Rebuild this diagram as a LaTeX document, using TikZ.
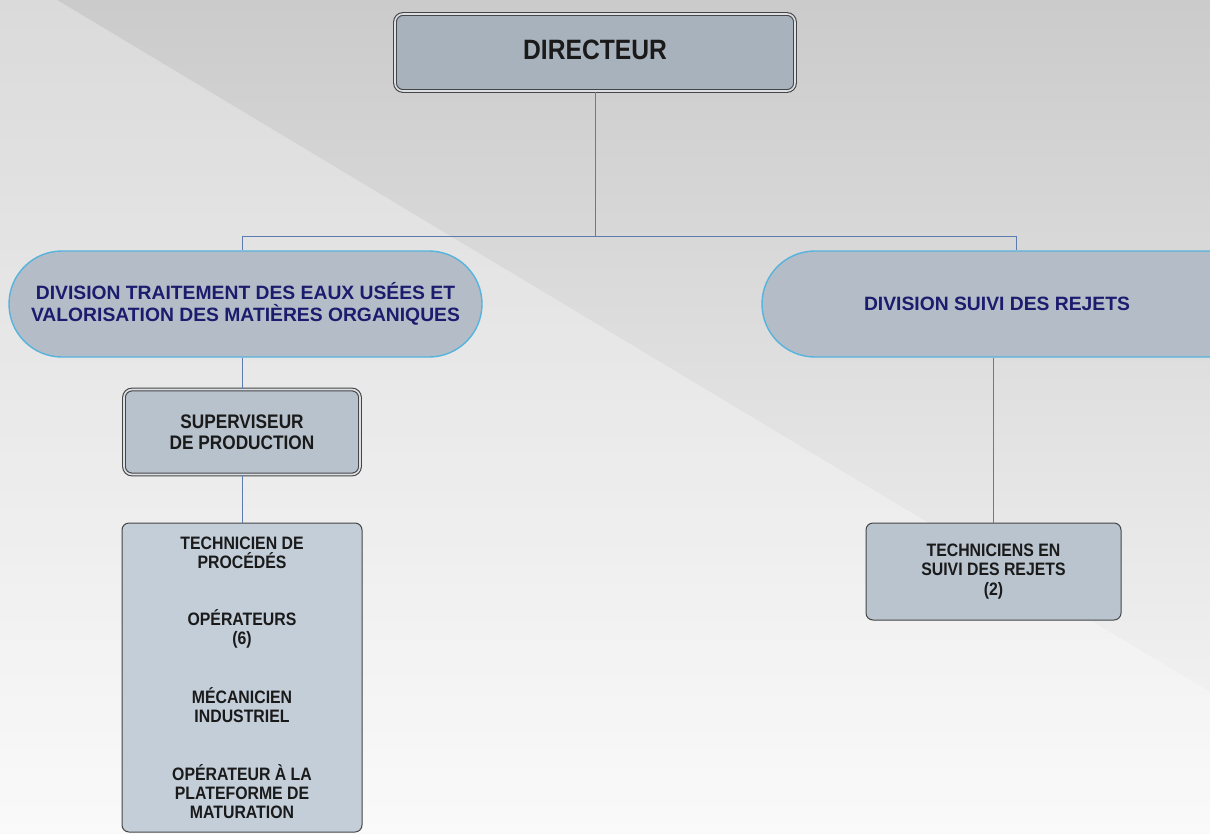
\documentclass[tikz,border=0pt]{standalone}
\usepackage{fontspec}
\setmainfont{Liberation Sans}
\newfontfamily\cfont[FakeStretch=0.88]{Liberation Sans}
\usetikzlibrary{calc}
\definecolor{bgtop}{HTML}{CBCBCB}
\definecolor{bgbot}{HTML}{F8F8F8}
\definecolor{conncol}{HTML}{5A7CB0}
\definecolor{dirfill}{HTML}{A8B2BD}
\definecolor{divfill}{HTML}{B4BDC7}
\definecolor{divline}{HTML}{55B3DC}
\definecolor{divtext}{HTML}{1C1C6E}
\definecolor{supfill}{HTML}{B7C2CD}
\definecolor{techfill}{HTML}{C3CED9}
\definecolor{boxline}{HTML}{454545}
\definecolor{txt}{HTML}{1A1A1A}
\tikzset{
  dblbox/.style={draw=boxline, line width=1.1pt, double=dirfill!40!white, double distance=1.6pt,
    rounded corners=8pt, align=center, text=txt},
  divbox/.style={draw=divline, line width=1.4pt, fill=divfill, rounded corners=53pt,
    align=center, text=divtext, font=\bfseries\fontsize{19.3}{22}\selectfont},
  listbox/.style={draw=boxline, line width=1pt, fill=techfill, rounded corners=7pt,
    align=center, text=txt, font=\cfont\bfseries\fontsize{18}{19}\selectfont},
  conn/.style={draw=conncol, line width=0.9pt}
}
\begin{document}
\begin{tikzpicture}[x=1pt,y=-1pt]
\clip (0,0) rectangle (1210,833);
\shade[top color=bgtop, bottom color=bgbot] (0,0) rectangle (1210,833);
\fill[white, opacity=0.3] (0,0) -- (57,0) -- (1210,692) -- (1210,833) -- (0,833) -- cycle;

\node[dblbox, fill=dirfill, minimum width=400pt, minimum height=77pt,
  font=\cfont\bfseries\fontsize{28}{30}\selectfont] (dir) at (595,52.5) {\raisebox{6pt}{DIRECTEUR}};

\node[divbox, minimum width=473pt, minimum height=106pt] (ldiv) at (245.5,304)
  {DIVISION TRAITEMENT DES EAUX USÉES ET\\VALORISATION DES MATIÈRES ORGANIQUES};
\node[divbox, minimum width=508pt, minimum height=106pt] (rdiv) at (1016,304)
  {\hspace*{-38pt}DIVISION SUIVI DES REJETS};

\node[dblbox, fill=supfill, minimum width=236pt, minimum height=85pt,
  font=\cfont\bfseries\fontsize{19.6}{20.5}\selectfont] (sup) at (242,432)
  {SUPERVISEUR\\DE PRODUCTION};

\node[listbox, minimum width=240pt, minimum height=309pt] (tech) at (242,677.5)
  {TECHNICIEN DE\\PROCÉDÉS\\[38.5pt]OPÉRATEURS\\(6)\\[38.5pt]MÉCANICIEN\\INDUSTRIEL\\[38.5pt]OPÉRATEUR À LA\\PLATEFORME DE\\MATURATION};

\node[listbox, fill=supfill!80!techfill, minimum width=255pt, minimum height=97pt,
  font=\cfont\bfseries\fontsize{18}{19.5}\selectfont] (rtech) at (993.5,571.5)
  {TECHNICIENS EN\\SUIVI DES REJETS\\(2)};

\coordinate (bus) at (595,236);
\draw[conn] (dir.south) -- (bus);
\draw[conn] (bus) -| (ldiv.north -| sup.north);
\draw[conn] (bus) -| (rdiv.north);
\draw[conn] (ldiv.south -| sup.north) -- (sup.north);
\draw[conn] (sup.south) -- (tech.north);
\draw[conn] (rdiv.south -| rtech.north) -- (rtech.north);
\end{tikzpicture}
\end{document}
